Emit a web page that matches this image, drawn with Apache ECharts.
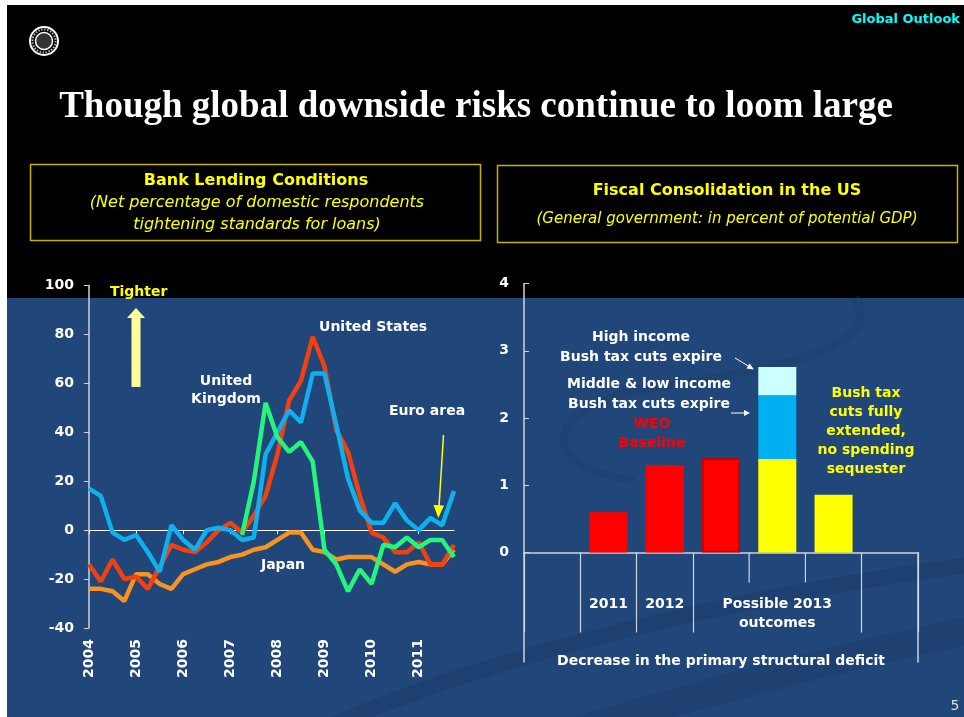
<!DOCTYPE html>
<html><head><meta charset="utf-8">
<script src="https://cdn.jsdelivr.net/npm/echarts@6/dist/echarts.min.js"></script>
<style>html,body{margin:0;padding:0;background:#fff}#c{width:964px;height:717px}</style>
</head><body><div id="c"></div>
<script>
// ---------- Left chart: Bank lending conditions (quarterly) ----------
const quarters = ['2004Q1','2004Q2','2004Q3','2004Q4','2005Q1','2005Q2','2005Q3','2005Q4',
  '2006Q1','2006Q2','2006Q3','2006Q4','2007Q1','2007Q2','2007Q3','2007Q4',
  '2008Q1','2008Q2','2008Q3','2008Q4','2009Q1','2009Q2','2009Q3','2009Q4',
  '2010Q1','2010Q2','2010Q3','2010Q4','2011Q1','2011Q2','2011Q3','2011Q4'];
const unitedStates = [-14,-21,-12,-20,-19,-24,-15,-6,-8,-9,-5,0,3,-1,6,14,31,53,61,79,67,41,32,14,-1,-3,-9,-9,-5,-14,-14,-6];
const euroArea = [17,14,-1,-4,-2,-9,-17,2,-4,-8,0,1,0,-4,-3,31,40,49,44,64,64,43,21,8,3,3,11,4,0,5,2,16];
const unitedKingdom = ['-','-','-','-','-','-','-','-','-','-','-','-','-',-2,20,52,38,32,36,28,-8,-14,-25,-16,-22,-6,-7,-3,-7,-4,-4,-11];
const japan = [-24,-24,-25,-29,-18,-18,-22,-24,-18,-16,-14,-13,-11,-10,-8,-7,-4,-1,-1,-8,-9,-12,-11,-11,-11,-14,-17,-14,-13,-14,-14,-8];
const leftYTicks = {min: -40, max: 100, interval: 20};

// ---------- Right chart: Fiscal consolidation in the US ----------
const fiscalSlots = ['', '2011', '2012', '2013 WEO baseline', '2013 tax cuts expire', '2013 tax cuts extended', ''];
const fiscalTickLabels = ['', '2011', '2012', '', 'Possible 2013\noutcomes', '', ''];
const weoBaseline = ['-', 0.6, 1.3, 1.4, '-', '-', '-'];
const cutsExtended = ['-', '-', '-', '-', 1.39, 0.86, '-'];
const middleLowExpire = ['-', '-', '-', '-', 0.95, '-', '-'];
const highIncomeExpire = ['-', '-', '-', '-', 0.42, '-', '-'];
const rightYTicks = {min: 0, max: 4, interval: 1};

const W = '#ffffff', AX = '#cfd3da';
const F = (s, w) => (w || 'bold') + ' ' + s + 'px "DejaVu Sans"';
function txt(id, text, x, y, fill, font, align) {
  return {type: 'text', id: id, z: 50, style: {text: text, x: x, y: y, fill: fill, font: font,
    textAlign: align || 'center', textVerticalAlign: 'middle', verticalAlign: 'middle'}};
}
function curve(id, p, stroke, lw, op) {
  return {type: 'bezierCurve', id: id, z: -98,
    shape: {x1: p[0], y1: p[1], cpx1: p[2], cpy1: p[3], cpx2: p[4], cpy2: p[5], x2: p[6], y2: p[7]},
    style: {fill: null, stroke: stroke, lineWidth: lw, opacity: op}};
}

const bgElements = [
  {type: 'rect', id: 'bgw', z: -100, shape: {x: 0, y: 0, width: 964, height: 717}, style: {fill: '#ffffff'}},
  {type: 'rect', id: 'bgk', z: -99, shape: {x: 7, y: 5, width: 957, height: 293}, style: {fill: '#000000'}},
  {type: 'rect', id: 'bgb', z: -99, shape: {x: 7, y: 298, width: 957, height: 419}, style: {fill: '#21477a'}},
  curve('sw1', [855, 298, 885, 345, 790, 368, 650, 388], '#1b3d6a', 8, 0.5),
  curve('sw1b', [650, 388, 545, 405, 530, 468, 635, 480], '#1b3d6a', 8, 0.45),
  curve('swA', [290, 745, 440, 670, 700, 600, 990, 562], '#1a3a66', 16, 0.5),
  curve('swB', [530, 745, 690, 695, 850, 655, 990, 626], '#1a3a66', 28, 0.45),
  // IMF seal (simplified)
  {type: 'circle', id: 'lg1', z: 5, shape: {cx: 44, cy: 41, r: 14}, style: {fill: 'none', stroke: '#ffffff', lineWidth: 2}},
  {type: 'circle', id: 'lg2', z: 5, shape: {cx: 44, cy: 41, r: 8.5}, style: {fill: '#333', stroke: '#ffffff', lineWidth: 1.5}},
  {type: 'circle', id: 'lg3', z: 5, shape: {cx: 44, cy: 41, r: 11.5}, style: {fill: 'none', stroke: '#bbbbbb', lineWidth: 2, lineDash: [1.5, 1.5]}},
  txt('go', 'Global Outlook', 960, 20, '#00ffff', F(13), 'right'),
  txt('title', 'Though global downside risks continue to loom large', 476, 107, '#ffffff', 'bold 37px "Liberation Serif"'),
  {type: 'rect', id: 'box1', z: 5, shape: {x: 30.5, y: 164.5, width: 450, height: 76}, style: {fill: 'none', stroke: '#c8b400', lineWidth: 1.5}},
  {type: 'rect', id: 'box2', z: 5, shape: {x: 497.5, y: 165.5, width: 460, height: 77}, style: {fill: 'none', stroke: '#c8b400', lineWidth: 1.5}},
  txt('b1t', 'Bank Lending Conditions', 256, 181, '#ffff00', F(16)),
  txt('b1a', '(Net percentage of domestic respondents', 257, 203, '#ffff00', 'italic 16px "DejaVu Sans"'),
  txt('b1b', 'tightening standards for loans)', 257, 225, '#ffff00', 'italic 16px "DejaVu Sans"'),
  txt('b2t', 'Fiscal Consolidation in the US', 727, 191, '#ffff00', F(16)),
  txt('b2a', '(General government: in percent of potential GDP)', 727, 219, '#ffff00', 'italic 15px "DejaVu Sans"'),
  // left annotations
  txt('tig', 'Tighter', 110, 292, '#ffff00', F(14), 'left'),
  {type: 'polygon', id: 'tarr', z: 50, shape: {points: [[131.5, 387], [140.5, 387], [140.5, 318], [145, 318], [136, 308], [127, 318], [131.5, 318]]},
    style: {fill: '#ffff99'}},
  txt('us', 'United States', 373, 327, W, F(14)),
  txt('uk1', 'United', 226, 381, W, F(14)),
  txt('uk2', 'Kingdom', 226, 399, W, F(14)),
  txt('ea', 'Euro area', 427, 411, W, F(14)),
  txt('jp', 'Japan', 283, 565, W, F(14)),
  {type: 'line', id: 'eal', z: 50, shape: {x1: 443.5, y1: 435, x2: 438.7, y2: 512}, style: {stroke: '#ffff00', lineWidth: 1.5}},
  {type: 'polygon', id: 'eah', z: 50, shape: {points: [[433.5, 505], [444, 505.5], [438.3, 518]]}, style: {fill: '#ffff00'}},
  // right annotations
  txt('hi1', 'High income', 641, 337, W, F(14)),
  txt('hi2', 'Bush tax cuts expire', 641, 357, W, F(14)),
  txt('ml1', 'Middle & low income', 649, 384, W, F(14)),
  txt('ml2', 'Bush tax cuts expire', 649, 404, W, F(14)),
  txt('weo1', 'WEO', 652, 424, '#ff0000', F(14)),
  txt('weo2', 'Baseline', 652, 443, '#ff0000', F(14)),
  txt('ex1', 'Bush tax', 866, 393, '#ffff00', F(14)),
  txt('ex2', 'cuts fully', 866, 412, '#ffff00', F(14)),
  txt('ex3', 'extended,', 866, 431, '#ffff00', F(14)),
  txt('ex4', 'no spending', 866, 450, '#ffff00', F(14)),
  txt('ex5', 'sequester', 866, 469, '#ffff00', F(14)),
  {type: 'line', id: 'a1l', z: 50, shape: {x1: 735, y1: 358, x2: 750, y2: 367}, style: {stroke: '#ffffff', lineWidth: 1}},
  {type: 'polygon', id: 'a1h', z: 50, shape: {points: [[754, 369.5], [746.5, 368.5], [749.5, 363.5]]}, style: {fill: '#ffffff'}},
  {type: 'line', id: 'a2l', z: 50, shape: {x1: 731, y1: 413, x2: 745, y2: 413}, style: {stroke: '#ffffff', lineWidth: 1}},
  {type: 'polygon', id: 'a2h', z: 50, shape: {points: [[750, 413], [744, 410], [744, 416]]}, style: {fill: '#ffffff'}},
  txt('pg', '5', 955, 706, '#dddddd', '14px "DejaVu Sans"')
];

const lineSeries = (name, data, color) => ({
  type: 'line', name: name, data: data, xAxisIndex: 0, yAxisIndex: 0,
  symbol: 'none', lineStyle: {color: color, width: 4.5}, z: 3
});

const option = {
  animation: false,
  textStyle: {fontFamily: 'DejaVu Sans'},
  grid: [
    {left: 89, right: 510, top: 285.5, bottom: 89},
    {left: 524, right: 46, top: 283.5, bottom: 164.5}
  ],
  xAxis: [
    {gridIndex: 0, type: 'category', data: quarters, boundaryGap: false, position: 'bottom',
      axisLine: {show: false, onZero: false}, axisTick: {show: false},
      axisLabel: {interval: 3, rotate: 90, margin: 11, color: W, fontWeight: 'bold', fontSize: 14,
        formatter: v => v.slice(0, 4)}},
    {gridIndex: 0, type: 'category', data: quarters, boundaryGap: false, position: 'top',
      axisLine: {show: true, onZero: true, lineStyle: {color: W, width: 1.2}},
      axisTick: {show: true, inside: true, interval: 3, length: 4, lineStyle: {color: W}},
      axisLabel: {show: false}},
    {gridIndex: 1, type: 'category', data: fiscalSlots, boundaryGap: true,
      axisLine: {show: true, lineStyle: {color: AX, width: 1.5}},
      axisTick: {show: true, length: 80, interval: (i) => i !== 4 && i !== 5, lineStyle: {color: AX, width: 1.2}},
      axisLabel: {interval: 0, margin: 42, color: W, fontWeight: 'bold', fontSize: 14, lineHeight: 19,
        formatter: (v, i) => fiscalTickLabels[i]},
      name: 'Decrease in the primary structural deficit', nameLocation: 'middle', nameGap: 102,
      nameTextStyle: {color: W, fontWeight: 'bold', fontSize: 14}}
  ],
  yAxis: [
    {gridIndex: 0, type: 'value', min: leftYTicks.min, max: leftYTicks.max, interval: leftYTicks.interval,
      axisLine: {show: true, lineStyle: {color: AX, width: 1.5}},
      axisTick: {show: true, length: 5, lineStyle: {color: AX}},
      splitLine: {show: false},
      axisLabel: {color: W, fontWeight: 'bold', fontSize: 14, margin: 15}},
    {gridIndex: 1, type: 'value', min: rightYTicks.min, max: rightYTicks.max, interval: rightYTicks.interval,
      axisLine: {show: true, lineStyle: {color: AX, width: 1.5}},
      axisTick: {show: true, inside: true, length: 5, lineStyle: {color: AX}},
      splitLine: {show: false},
      axisLabel: {color: W, fontWeight: 'bold', fontSize: 14, margin: 15}}
  ],
  series: [
    lineSeries('Japan', japan, '#f7931e'),
    lineSeries('United States', unitedStates, '#f2400f'),
    lineSeries('Euro area', euroArea, '#0fb0ec'),
    lineSeries('United Kingdom', unitedKingdom, '#26f57c'),
    {type: 'bar', name: 'WEO Baseline', xAxisIndex: 2, yAxisIndex: 1, stack: 'f', barWidth: 38,
      data: weoBaseline.map((v, i) => i === 3 ? {value: v, itemStyle: {borderColor: '#c00000', borderWidth: 1.5}} : v),
      itemStyle: {color: '#ff0000'}},
    {type: 'bar', name: 'Bush tax cuts fully extended', xAxisIndex: 2, yAxisIndex: 1, stack: 'f', barWidth: 38,
      data: cutsExtended, itemStyle: {color: '#ffff00'}},
    {type: 'bar', name: 'Middle & low income cuts expire', xAxisIndex: 2, yAxisIndex: 1, stack: 'f', barWidth: 38,
      data: middleLowExpire, itemStyle: {color: '#00b0f0'}},
    {type: 'bar', name: 'High income cuts expire', xAxisIndex: 2, yAxisIndex: 1, stack: 'f', barWidth: 38,
      data: highIncomeExpire, itemStyle: {color: '#ccffff'}}
  ],
  graphic: {elements: bgElements.slice()}
};

const chart = echarts.init(document.getElementById('c'), null, {renderer: 'canvas'});
chart.setOption(option);

// Extra divider lines of the multi-level category axis, positioned from the axis scale
const c0 = chart.convertToPixel({xAxisIndex: 2}, 0);
const c1 = chart.convertToPixel({xAxisIndex: 2}, 1);
const bw = c1 - c0;
const y0 = chart.convertToPixel({yAxisIndex: 1}, 0);
const edge = k => c0 - bw / 2 + k * bw;
const extra = [];
[4, 5].forEach(k => extra.push({type: 'line', id: 'sd' + k, z: 10,
  shape: {x1: edge(k), y1: y0, x2: edge(k), y2: y0 + 30}, style: {stroke: AX, lineWidth: 1.2}}));
[0, fiscalSlots.length].forEach(k => extra.push({type: 'line', id: 'ld' + k, z: 10,
  shape: {x1: edge(k), y1: y0, x2: edge(k), y2: y0 + 110}, style: {stroke: AX, lineWidth: 1.5}}));
option.graphic = {elements: bgElements.concat(extra)};
chart.setOption(option, true);
</script></body></html>
